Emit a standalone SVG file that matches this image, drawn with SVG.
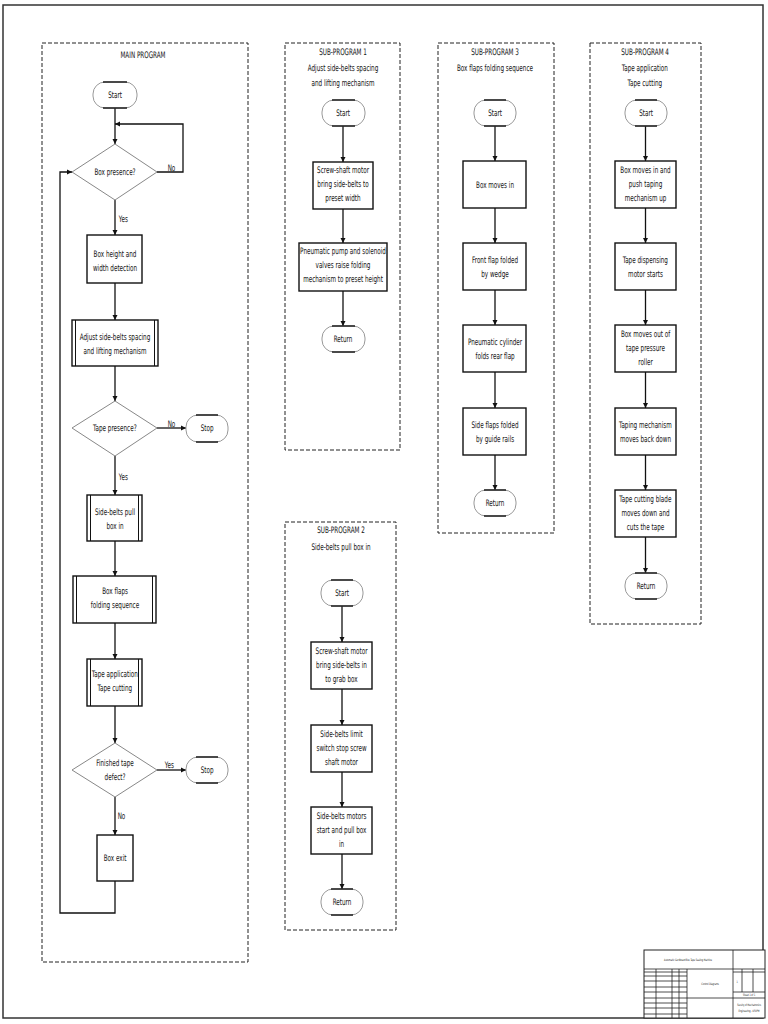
<svg xmlns="http://www.w3.org/2000/svg" width="768" height="1024" viewBox="0 0 768 1024">
<style>
.bg{fill:#fff}
.frame{fill:none;stroke:#333;stroke-width:1.5}
.dash{fill:none;stroke:#222;stroke-width:1;stroke-dasharray:4,2}
.box{fill:#fff;stroke:#111;stroke-width:1.4}
.dia{fill:#fff;stroke:#888;stroke-width:1}
.term{fill:#fff;stroke:#999;stroke-width:1}
.tl{stroke:#111;stroke-width:1.4}
.in{stroke:#111;stroke-width:1}
.conn{fill:none;stroke:#111;stroke-width:1.3}
text{font-family:"Liberation Sans Narrow","DejaVu Sans Condensed","Liberation Sans",sans-serif;font-size:9px;fill:#111;text-anchor:middle;transform-box:fill-box;transform-origin:center;transform:scaleX(0.7)}
.lab{text-anchor:start}
.tb{fill:none;stroke:#222;stroke-width:0.8}
.tt{font-size:3.2px}
</style>
<defs>
<marker id="ah" markerWidth="6" markerHeight="6" refX="5" refY="3" orient="auto" markerUnits="userSpaceOnUse">
<path d="M0,0.5 L5,3 L0,5.5 Z" fill="#111"/>
</marker>
</defs>
<rect class="bg" x="0" y="0" width="768" height="1024"/>
<rect class="frame" x="3" y="5" width="760" height="1013"/>

<!-- containers -->
<g id="main-program">
<rect class="dash" x="42" y="43" width="206" height="919"/>
<text x="143" y="58">MAIN PROGRAM</text>
</g>
<g id="sub-program-1">
<rect class="dash" x="285" y="43" width="115" height="407"/>
<text x="343" y="55">SUB-PROGRAM 1</text>
<text x="343" y="71">Adjust side-belts spacing</text>
<text x="343" y="86">and lifting mechanism</text>
</g>
<g id="sub-program-3">
<rect class="dash" x="438" y="43" width="116" height="490"/>
<text x="495" y="55">SUB-PROGRAM 3</text>
<text x="495" y="71">Box flaps folding sequence</text>
</g>
<g id="sub-program-4">
<rect class="dash" x="590" y="43" width="111" height="581"/>
<text x="645" y="55">SUB-PROGRAM 4</text>
<text x="645" y="71">Tape application</text>
<text x="645" y="86">Tape cutting</text>
</g>
<g id="sub-program-2">
<rect class="dash" x="285" y="522" width="111" height="408"/>
<text x="341" y="533">SUB-PROGRAM 2</text>
<text x="341" y="550">Side-belts pull box in</text>
</g>

<!-- connectors -->
<g id="connectors">
<path class="conn" d="M115,108 V144" marker-end="url(#ah)"/>
<path class="conn" d="M157,172 H183 V124 H115" marker-end="url(#ah)"/>
<path class="conn" d="M115,200 V235" marker-end="url(#ah)"/>
<path class="conn" d="M115,283 V320" marker-end="url(#ah)"/>
<path class="conn" d="M115,366 V401" marker-end="url(#ah)"/>
<path class="conn" d="M157,428 H186" marker-end="url(#ah)"/>
<path class="conn" d="M115,456 V495" marker-end="url(#ah)"/>
<path class="conn" d="M115,541 V576" marker-end="url(#ah)"/>
<path class="conn" d="M115,623 V659" marker-end="url(#ah)"/>
<path class="conn" d="M115,706 V743" marker-end="url(#ah)"/>
<path class="conn" d="M157,770 H186" marker-end="url(#ah)"/>
<path class="conn" d="M115,797 V835" marker-end="url(#ah)"/>
<path class="conn" d="M115,881 V913 H60 V172 H72" marker-end="url(#ah)"/>
<text class="lab" x="166" y="171">No</text>
<text class="lab" x="117" y="222">Yes</text>
<text class="lab" x="166" y="427">No</text>
<text class="lab" x="117" y="480">Yes</text>
<text class="lab" x="163" y="768">Yes</text>
<text class="lab" x="116" y="819">No</text>

<path class="conn" d="M343,126 V162" marker-end="url(#ah)"/>
<path class="conn" d="M343,209 V243" marker-end="url(#ah)"/>
<path class="conn" d="M343,291 V326" marker-end="url(#ah)"/>

<path class="conn" d="M495,126 V161" marker-end="url(#ah)"/>
<path class="conn" d="M495,208 V243" marker-end="url(#ah)"/>
<path class="conn" d="M495,290 V325" marker-end="url(#ah)"/>
<path class="conn" d="M495,372 V408" marker-end="url(#ah)"/>
<path class="conn" d="M495,455 V490" marker-end="url(#ah)"/>

<path class="conn" d="M645.5,126 V161" marker-end="url(#ah)"/>
<path class="conn" d="M645.5,208 V243" marker-end="url(#ah)"/>
<path class="conn" d="M645.5,290 V325" marker-end="url(#ah)"/>
<path class="conn" d="M645.5,372 V408" marker-end="url(#ah)"/>
<path class="conn" d="M645.5,455 V490" marker-end="url(#ah)"/>
<path class="conn" d="M645.5,537 V573" marker-end="url(#ah)"/>

<path class="conn" d="M342,606 V642" marker-end="url(#ah)"/>
<path class="conn" d="M342,689 V725" marker-end="url(#ah)"/>
<path class="conn" d="M342,772 V807" marker-end="url(#ah)"/>
<path class="conn" d="M342,854 V889" marker-end="url(#ah)"/>
</g>

<!-- main program nodes -->
<g id="m-start"><rect class="term" x="93" y="82" width="44" height="26" rx="12"/><line class="tl" x1="103" y1="82" x2="127" y2="82"/><line class="tl" x1="103" y1="108" x2="127" y2="108"/><text x="115" y="98">Start</text></g>
<g id="m-box-presence"><polygon class="dia" points="115,144 157,172 115,200 72,172"/><text x="115" y="175">Box presence?</text></g>
<g id="m-box-height"><rect class="box" x="87" y="235" width="55" height="48"/><text x="115" y="257">Box height and</text><text x="115" y="271">width detection</text></g>
<g id="m-adjust"><rect class="box" x="72" y="320" width="86" height="46"/><line class="in" x1="75.5" y1="320" x2="75.5" y2="366"/><line class="in" x1="154.5" y1="320" x2="154.5" y2="366"/><text x="115" y="340">Adjust side-belts spacing</text><text x="115" y="354">and lifting mechanism</text></g>
<g id="m-tape-presence"><polygon class="dia" points="115,401 157,428 115,456 72,428"/><text x="115" y="431">Tape presence?</text></g>
<g id="m-stop-1"><rect class="term" x="186" y="415" width="42" height="27" rx="12"/><line class="tl" x1="196" y1="415" x2="218" y2="415"/><line class="tl" x1="196" y1="442" x2="218" y2="442"/><text x="207" y="431">Stop</text></g>
<g id="m-side-belts"><rect class="box" x="87" y="495" width="55" height="46"/><line class="in" x1="90.5" y1="495" x2="90.5" y2="541"/><line class="in" x1="138.5" y1="495" x2="138.5" y2="541"/><text x="115" y="515">Side-belts pull</text><text x="115" y="529">box in</text></g>
<g id="m-box-flaps"><rect class="box" x="73" y="576" width="83" height="47"/><line class="in" x1="76.5" y1="576" x2="76.5" y2="623"/><line class="in" x1="152.5" y1="576" x2="152.5" y2="623"/><text x="115" y="594">Box flaps</text><text x="115" y="608">folding sequence</text></g>
<g id="m-tape-app"><rect class="box" x="87" y="659" width="55" height="47"/><line class="in" x1="90.5" y1="659" x2="90.5" y2="706"/><line class="in" x1="138.5" y1="659" x2="138.5" y2="706"/><text x="115" y="677">Tape application</text><text x="115" y="691">Tape cutting</text></g>
<g id="m-finished"><polygon class="dia" points="115,743 157,770 115,797 72,770"/><text x="115" y="766">Finished tape</text><text x="115" y="780">defect?</text></g>
<g id="m-stop-2"><rect class="term" x="186" y="757" width="42" height="26" rx="12"/><line class="tl" x1="196" y1="757" x2="218" y2="757"/><line class="tl" x1="196" y1="783" x2="218" y2="783"/><text x="207" y="773">Stop</text></g>
<g id="m-box-exit"><rect class="box" x="97" y="835" width="36" height="46"/><text x="115" y="861">Box exit</text></g>

<!-- sub-program 1 nodes -->
<g id="s1-start"><rect class="term" x="322" y="100" width="43" height="26" rx="12"/><line class="tl" x1="332" y1="100" x2="355" y2="100"/><line class="tl" x1="332" y1="126" x2="355" y2="126"/><text x="343" y="116">Start</text></g>
<g id="s1-screw"><rect class="box" x="313" y="162" width="60" height="47"/><text x="343" y="173">Screw-shaft motor</text><text x="343" y="187">bring side-belts to</text><text x="343" y="201">preset width</text></g>
<g id="s1-pneumatic"><rect class="box" x="299" y="243" width="88" height="48"/><text x="343" y="254">Pneumatic pump and solenoid</text><text x="343" y="268">valves raise folding</text><text x="343" y="282">mechanism to preset height</text></g>
<g id="s1-return"><rect class="term" x="322" y="326" width="43" height="26" rx="12"/><line class="tl" x1="332" y1="326" x2="355" y2="326"/><line class="tl" x1="332" y1="352" x2="355" y2="352"/><text x="343" y="342">Return</text></g>

<!-- sub-program 3 nodes -->
<g id="s3-start"><rect class="term" x="474" y="100" width="42" height="26" rx="12"/><line class="tl" x1="484" y1="100" x2="506" y2="100"/><line class="tl" x1="484" y1="126" x2="506" y2="126"/><text x="495" y="116">Start</text></g>
<g id="s3-box-in"><rect class="box" x="463" y="161" width="63" height="47"/><text x="495" y="188">Box moves in</text></g>
<g id="s3-front"><rect class="box" x="463" y="243" width="63" height="47"/><text x="495" y="263">Front flap folded</text><text x="495" y="277">by wedge</text></g>
<g id="s3-pneumatic"><rect class="box" x="463" y="325" width="63" height="47"/><text x="495" y="345">Pneumatic cylinder</text><text x="495" y="359">folds rear flap</text></g>
<g id="s3-side"><rect class="box" x="463" y="408" width="63" height="47"/><text x="495" y="428">Side flaps folded</text><text x="495" y="442">by guide rails</text></g>
<g id="s3-return"><rect class="term" x="474" y="490" width="42" height="26" rx="12"/><line class="tl" x1="484" y1="490" x2="506" y2="490"/><line class="tl" x1="484" y1="516" x2="506" y2="516"/><text x="495" y="506">Return</text></g>

<!-- sub-program 4 nodes -->
<g id="s4-start"><rect class="term" x="625" y="100" width="42" height="26" rx="12"/><line class="tl" x1="635" y1="100" x2="657" y2="100"/><line class="tl" x1="635" y1="126" x2="657" y2="126"/><text x="646" y="116">Start</text></g>
<g id="s4-r1"><rect class="box" x="615" y="161" width="61" height="47"/><text x="645.5" y="173">Box moves in and</text><text x="645.5" y="187">push taping</text><text x="645.5" y="201">mechanism up</text></g>
<g id="s4-r2"><rect class="box" x="615" y="243" width="61" height="47"/><text x="645.5" y="263">Tape dispensing</text><text x="645.5" y="277">motor starts</text></g>
<g id="s4-r3"><rect class="box" x="615" y="325" width="61" height="47"/><text x="645.5" y="337">Box moves out of</text><text x="645.5" y="351">tape pressure</text><text x="645.5" y="365">roller</text></g>
<g id="s4-r4"><rect class="box" x="615" y="408" width="61" height="47"/><text x="645.5" y="428">Taping mechanism</text><text x="645.5" y="442">moves back down</text></g>
<g id="s4-r5"><rect class="box" x="615" y="490" width="61" height="47"/><text x="645.5" y="502">Tape cutting blade</text><text x="645.5" y="516">moves down and</text><text x="645.5" y="530">cuts the tape</text></g>
<g id="s4-return"><rect class="term" x="625" y="573" width="42" height="26" rx="12"/><line class="tl" x1="635" y1="573" x2="657" y2="573"/><line class="tl" x1="635" y1="599" x2="657" y2="599"/><text x="646" y="589">Return</text></g>

<!-- sub-program 2 nodes -->
<g id="s2-start"><rect class="term" x="321" y="580" width="42" height="26" rx="12"/><line class="tl" x1="331" y1="580" x2="353" y2="580"/><line class="tl" x1="331" y1="606" x2="353" y2="606"/><text x="342" y="596">Start</text></g>
<g id="s2-r1"><rect class="box" x="311" y="642" width="61" height="47"/><text x="341.5" y="654">Screw-shaft motor</text><text x="341.5" y="668">bring side-belts in</text><text x="341.5" y="682">to grab box</text></g>
<g id="s2-r2"><rect class="box" x="311" y="725" width="61" height="47"/><text x="341.5" y="737">Side-belts limit</text><text x="341.5" y="751">switch stop screw</text><text x="341.5" y="765">shaft motor</text></g>
<g id="s2-r3"><rect class="box" x="311" y="807" width="61" height="47"/><text x="341.5" y="819">Side-belts motors</text><text x="341.5" y="833">start and pull box</text><text x="341.5" y="847">in</text></g>
<g id="s2-return"><rect class="term" x="321" y="889" width="42" height="26" rx="12"/><line class="tl" x1="331" y1="889" x2="353" y2="889"/><line class="tl" x1="331" y1="915" x2="353" y2="915"/><text x="342" y="905">Return</text></g>

<!-- title block -->
<g id="title-block">
<rect fill="#fff" stroke="#222" stroke-width="1" x="644" y="950" width="121" height="68"/>
<line class="tb" x1="644" y1="969" x2="765" y2="969"/>
<line class="tb" x1="733" y1="950" x2="733" y2="1018"/>
<line class="tb" x1="687" y1="969" x2="687" y2="1018"/>
<line class="tb" x1="656" y1="969" x2="656" y2="1018"/>
<line class="tb" x1="672" y1="969" x2="672" y2="1018"/>
<line class="tb" x1="679" y1="969" x2="679" y2="1018"/>
<line class="tb" x1="644" y1="972" x2="687" y2="972"/>
<line class="tb" x1="644" y1="976" x2="687" y2="976"/>
<line class="tb" x1="644" y1="981" x2="687" y2="981"/>
<line class="tb" x1="644" y1="987" x2="687" y2="987"/>
<line class="tb" x1="644" y1="992" x2="687" y2="992"/>
<line class="tb" x1="644" y1="998" x2="765" y2="998"/>
<line class="tb" x1="644" y1="1003" x2="687" y2="1003"/>
<line class="tb" x1="644" y1="1008" x2="687" y2="1008"/>
<line class="tb" x1="644" y1="1014" x2="687" y2="1014"/>
<line class="tb" x1="733" y1="972" x2="765" y2="972"/>
<line class="tb" x1="733" y1="992" x2="765" y2="992"/>
<line class="tb" x1="742" y1="969" x2="742" y2="992"/>
<line class="tb" x1="753" y1="969" x2="753" y2="992"/>
<text class="tt" x="688" y="961">Automatic Cardboard Box Tape Sealing Machine</text>
<text class="tt" x="710" y="985">Control Diagrams</text>
<text class="tt" x="737" y="983">1</text>
<text class="tt" x="749" y="996">Sheet 1 of 1</text>
<text class="tt" x="749" y="1006">Faculty of Mechatronics</text>
<text class="tt" x="749" y="1012">Engineering - KFUPM</text>
</g>
</svg>
